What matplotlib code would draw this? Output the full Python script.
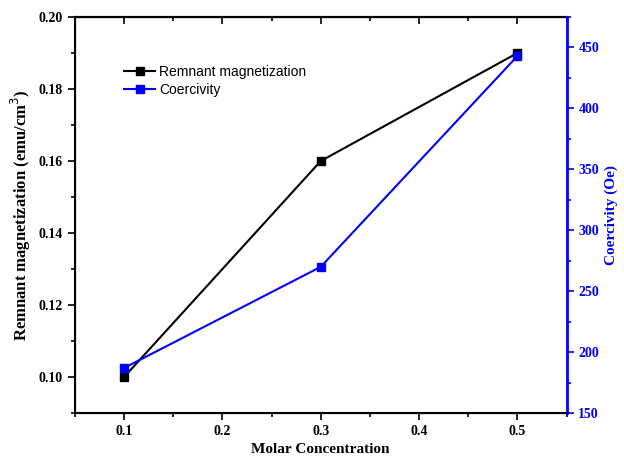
import matplotlib.pyplot as plt
from matplotlib.ticker import MultipleLocator

molar = [0.1, 0.3, 0.5]
remnant = [0.100, 0.160, 0.190]
coercivity = [187, 270, 443]

serif = 'Liberation Serif'

fig = plt.figure(figsize=(6.24, 4.59), dpi=100)
ax = fig.add_axes([0.120, 0.100, 0.788, 0.863])
ax2 = ax.twinx()

l1, = ax.plot(molar, remnant, color='black', marker='s', markersize=6,
              linewidth=1.5, label='Remnant magnetization')
l2, = ax2.plot(molar, coercivity, color='blue', marker='s', markersize=6,
               linewidth=1.5, label='Coercivity')

ax.set_xlim(0.05, 0.55)
ax.set_ylim(0.09, 0.20)
ax2.set_ylim(150, 475)

ax.xaxis.set_major_locator(MultipleLocator(0.1))
ax.xaxis.set_minor_locator(MultipleLocator(0.05))
ax.yaxis.set_major_locator(MultipleLocator(0.02))
ax.yaxis.set_minor_locator(MultipleLocator(0.01))
ax2.yaxis.set_major_locator(MultipleLocator(50))
ax2.yaxis.set_minor_locator(MultipleLocator(25))

ax.tick_params(which='major', length=5, width=1.2, direction='out')
ax.tick_params(which='minor', length=3, width=1.2, direction='out')

# top axis: ticks pointing inward, no labels
top = ax.secondary_xaxis('top')
top.xaxis.set_major_locator(MultipleLocator(0.1))
top.xaxis.set_minor_locator(MultipleLocator(0.05))
top.tick_params(which='major', length=5, width=1.2, direction='in', labeltop=False)
top.tick_params(which='minor', length=3, width=1.2, direction='in')
top.spines['top'].set_linewidth(1.5)

ax2.tick_params(axis='y', which='major', length=5, width=1.2, colors='blue')
ax2.tick_params(axis='y', which='minor', length=3, width=1.2, colors='blue')

for s in ['left', 'bottom', 'top']:
    ax.spines[s].set_linewidth(1.5)
ax2.spines['right'].set_color('blue')
ax2.spines['right'].set_linewidth(2)
ax.spines['right'].set_visible(False)

for lab in ax.get_xticklabels() + ax.get_yticklabels():
    lab.set_fontfamily(serif)
    lab.set_fontweight('bold')
    lab.set_fontsize(10)
for lab in ax2.get_yticklabels():
    lab.set_fontfamily(serif)
    lab.set_fontweight('bold')
    lab.set_fontsize(10)
    lab.set_color('blue')

ax.set_xlabel('Molar Concentration', fontfamily=serif, fontweight='bold', fontsize=11)
ax.set_ylabel('Remnant magnetization (emu/cm$^3$)', fontfamily=serif,
              fontweight='bold', fontsize=12)
ax2.set_ylabel('Coercivity (Oe)', fontfamily=serif, fontweight='bold',
               fontsize=11, color='blue')

leg = ax.legend(handles=[l1, l2], loc='upper left', bbox_to_anchor=(0.075, 0.91),
                frameon=False, prop={'family': 'Liberation Sans', 'size': 10},
                handlelength=2.2, handletextpad=0.3, labelspacing=0.3)

plt.savefig('out.png', dpi=100)
